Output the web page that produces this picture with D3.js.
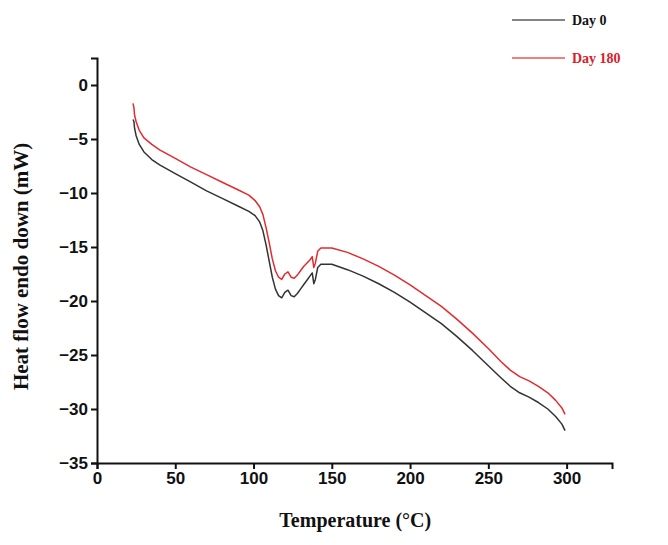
<!DOCTYPE html>
<html><head><meta charset="utf-8">
<script src="https://cdn.jsdelivr.net/npm/d3@7"></script>
<style>body{margin:0;background:#fff}svg{display:block}</style>
</head><body>
<svg id="chart" width="668" height="545"></svg>
<script>
const seriesNames = ["Day 0", "Day 180"];
const seriesColors = ["#333333", "#e32b2f"];
const xTicks = [0, 50, 100, 150, 200, 250, 300];
const yTicks = [0, -5, -10, -15, -20, -25, -30, -35];

const day0 = [[23,-3.2],[23.6,-3.4],[24,-4.0],[25,-4.7],[27,-5.5],[30,-6.2],[35,-6.9],[40,-7.4],[50,-8.2],[60,-9.0],[70,-9.8],[80,-10.5],[90,-11.2],[97,-11.7],[101,-12.1],[104,-12.7],[106,-13.5],[108,-14.8],[110,-16.3],[112,-17.8],[114,-18.9],[116,-19.5],[118,-19.7],[120,-19.2],[122,-19.0],[124,-19.5],[126,-19.6],[128,-19.3],[130,-18.9],[132,-18.5],[134,-18.1],[136,-17.7],[137.5,-17.4],[138.5,-18.4],[139.5,-18.0],[141,-16.9],[143,-16.6],[150,-16.6],[160,-17.1],[170,-17.7],[180,-18.4],[190,-19.2],[200,-20.1],[210,-21.1],[220,-22.1],[230,-23.3],[240,-24.6],[250,-26.0],[258,-27.1],[264,-27.9],[270,-28.5],[276,-28.9],[282,-29.4],[288,-30.0],[293,-30.7],[297,-31.4],[299,-32.0]];

const day180 = [[23,-1.7],[23.6,-2.1],[24,-2.8],[25,-3.4],[27,-4.2],[30,-4.9],[35,-5.5],[40,-6.0],[50,-6.8],[60,-7.6],[70,-8.3],[80,-9.0],[90,-9.7],[97,-10.2],[101,-10.7],[104,-11.3],[106,-12.0],[108,-13.2],[110,-14.6],[112,-16.1],[114,-17.2],[116,-17.8],[118,-18.0],[120,-17.5],[122,-17.3],[124,-17.8],[126,-17.9],[128,-17.6],[130,-17.2],[132,-16.8],[134,-16.5],[136,-16.2],[137.5,-15.9],[138.5,-16.9],[139.5,-16.5],[141,-15.4],[143,-15.1],[150,-15.1],[160,-15.5],[170,-16.1],[180,-16.8],[190,-17.6],[200,-18.5],[210,-19.5],[220,-20.5],[230,-21.7],[240,-23.0],[250,-24.4],[258,-25.6],[264,-26.4],[270,-27.0],[276,-27.4],[282,-27.9],[288,-28.5],[293,-29.2],[297,-29.9],[299,-30.5]];

const series = [day0, day180];

const svg = d3.select("#chart");
const margin = {left: 97, top: 58, right: 56, bottom: 82};
const W = 668, H = 545;
const x = d3.scaleLinear().domain([0, 329]).range([margin.left, W - margin.right]);
const y = d3.scaleLinear().domain([-35, 2.5]).range([H - margin.bottom, margin.top]);

const xAxis = svg.append("g").attr("transform", `translate(0,${y(-35)})`)
  .call(d3.axisBottom(x).tickValues(xTicks).tickSize(6).tickPadding(3).tickFormat(d3.format("d")));
const yAxis = svg.append("g").attr("transform", `translate(${x(0)},0)`)
  .call(d3.axisLeft(y).tickValues(yTicks).tickSize(6).tickPadding(3).tickFormat(d => d < 0 ? "\u2212" + Math.abs(d) : d));
[xAxis, yAxis].forEach(a => {
  a.selectAll("path").attr("stroke", "#111").attr("stroke-width", 2);
  a.selectAll("line").attr("stroke", "#111").attr("stroke-width", 2);
  a.selectAll("text").attr("fill", "#111").style("font-family", "'Liberation Sans', Arial, sans-serif").style("font-weight", "bold").style("font-size", "17px");
});

const line = d3.line().x(d => x(d[0])).y(d => y(d[1]));
series.forEach((s, i) => {
  svg.append("path").datum(s).attr("d", line).attr("fill", "none")
    .attr("stroke", seriesColors[i]).attr("stroke-width", 1.5).attr("stroke-linejoin", "round");
});

svg.append("text").attr("x", x(165)).attr("y", 527).attr("text-anchor", "middle")
  .style("font-family", "'Liberation Serif', 'Times New Roman', serif").style("font-weight", "bold").style("font-size", "20px")
  .attr("fill", "#111").text("Temperature (\u00B0C)");
svg.append("text").attr("transform", `translate(28,${y(-16.8)}) rotate(-90)`).attr("text-anchor", "middle")
  .style("font-family", "'Liberation Serif', 'Times New Roman', serif").style("font-weight", "bold").style("font-size", "21px")
  .attr("fill", "#111").text("Heat flow endo down (mW)");

const leg = svg.append("g");
seriesNames.forEach((n, i) => {
  const ly = 20 + i * 38;
  leg.append("line").attr("x1", 512).attr("x2", 565).attr("y1", ly).attr("y2", ly)
    .attr("stroke", seriesColors[i]).attr("stroke-width", 1.5).attr("opacity", 0.8);
  leg.append("text").attr("x", 572).attr("y", ly + 5)
    .style("font-family", "'Liberation Serif', 'Times New Roman', serif").style("font-weight", "bold").style("font-size", "14px")
    .attr("fill", i === 0 ? "#111" : "#d9202a").text(n);
});
</script>
</body></html>
